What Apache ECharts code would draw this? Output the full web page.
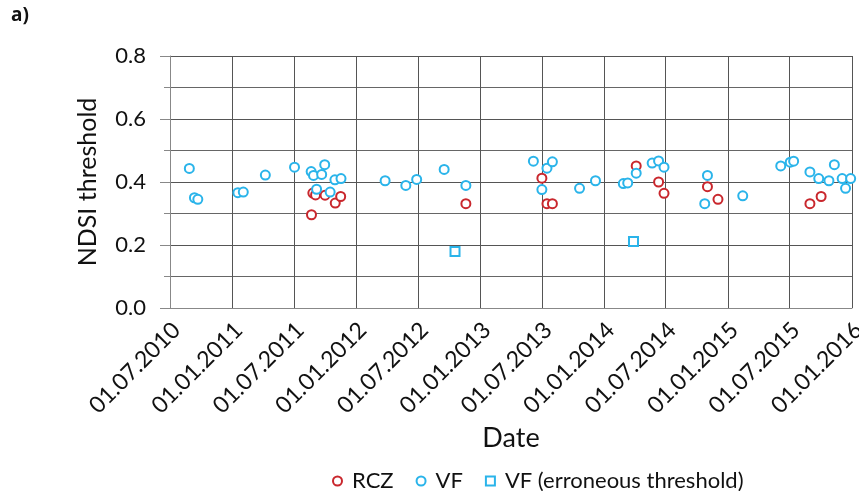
<!DOCTYPE html>
<html>
<head>
<meta charset="utf-8">
<script src="https://cdn.jsdelivr.net/npm/echarts@6/dist/echarts.min.js"></script>
<style>
  html, body { margin: 0; padding: 0; background: #fff; }
  #main { width: 859px; height: 491px; }
</style>
</head>
<body>
<div id="main"></div>
<script>
// tick labels of the date axis (every half year)
var tickLabels = ['01.07.2010', '01.01.2011', '01.07.2011', '01.01.2012', '01.07.2012', '01.01.2013',
    '01.07.2013', '01.01.2014', '01.07.2014', '01.01.2015', '01.07.2015', '01.01.2016'];

// RCZ thresholds
var rczDates = ['2011-08-22', '2011-08-26', '2011-09-03', '2011-10-01', '2011-10-31', '2011-11-16',
    '2012-11-19', '2013-07-01', '2013-07-16', '2013-08-01', '2014-04-05', '2014-06-10', '2014-06-26',
    '2014-11-01', '2014-12-02', '2015-08-30', '2015-10-02'];
var rczValues = [0.296, 0.365, 0.359, 0.358, 0.333, 0.354,
    0.331, 0.412, 0.331, 0.331, 0.451, 0.400, 0.364,
    0.385, 0.345, 0.331, 0.354];

// VF thresholds
var vfDates = ['2010-08-27', '2010-09-11', '2010-09-21', '2011-01-17', '2011-02-02', '2011-04-08',
    '2011-07-03', '2011-08-21', '2011-08-28', '2011-09-06', '2011-09-21', '2011-09-30', '2011-10-16',
    '2011-10-30', '2011-11-17', '2012-03-26', '2012-05-26', '2012-06-27', '2012-09-16', '2012-11-19',
    '2013-06-06', '2013-07-01', '2013-07-16', '2013-08-01', '2013-10-20', '2013-12-06', '2014-02-26',
    '2014-03-11', '2014-04-05', '2014-05-22', '2014-06-10', '2014-06-26', '2014-10-24', '2014-11-01',
    '2015-02-13', '2015-06-05', '2015-07-03', '2015-07-13', '2015-08-30', '2015-09-25', '2015-10-25',
    '2015-11-10', '2015-12-03', '2015-12-13', '2015-12-28'];
var vfValues = [0.443, 0.350, 0.345, 0.366, 0.368, 0.422,
    0.447, 0.433, 0.421, 0.377, 0.424, 0.455, 0.368,
    0.407, 0.411, 0.404, 0.389, 0.408, 0.440, 0.389,
    0.466, 0.376, 0.444, 0.464, 0.380, 0.404, 0.395,
    0.397, 0.428, 0.460, 0.467, 0.447, 0.331, 0.421,
    0.356, 0.451, 0.463, 0.466, 0.432, 0.411, 0.404,
    0.455, 0.411, 0.380, 0.411];

// VF, erroneous threshold
var errDates = ['2012-10-18', '2014-03-28'];
var errValues = [0.179, 0.211];

var red = '#c9272d';
var blue = '#2ab4ea';
var font = 'Lato';

function labelTime(s) {
    var p = s.split('.');
    return new Date(+p[2], +p[1] - 1, +p[0]).getTime();
}
function isoTime(s) {
    var p = s.split('-');
    return new Date(+p[0], +p[1] - 1, +p[2]).getTime();
}
function pairs(dates, values) {
    return dates.map(function (d, i) { return [isoTime(d), values[i]]; });
}
function pad(n) { return (n < 10 ? '0' : '') + n; }

var tickValues = tickLabels.map(labelTime);

var chart = echarts.init(document.getElementById('main'));
var option = {
    animation: false,
    backgroundColor: '#fff',
    title: {
        text: 'a)', left: 6, top: 1,
        textStyle: { fontFamily: 'Noto Sans', fontSize: 19, fontWeight: 'bold', color: '#111' }
    },
    grid: { left: 170, right: 7, top: 56, bottom: 183, outerBoundsMode: 'none' },
    legend: {
        left: 327, top: 465,
        itemWidth: 9, itemHeight: 9, itemGap: 22,
        textStyle: { fontFamily: font, fontSize: 22, color: '#111', padding: [0, 0, 0, 5] },
        data: [
            { name: 'RCZ', icon: 'emptyCircle' },
            { name: 'VF', icon: 'emptyCircle' },
            { name: 'VF (erroneous threshold)', icon: 'emptyRect' }
        ]
    },
    xAxis: {
        type: 'value',
        min: tickValues[0],
        max: tickValues[tickValues.length - 1],
        name: 'Date',
        nameLocation: 'middle',
        nameGap: 116,
        nameTextStyle: { fontFamily: font, fontSize: 27, color: '#111' },
        axisLine: { lineStyle: { color: '#888', width: 1 } },
        axisTick: { show: false, customValues: tickValues },
        axisLabel: {
            customValues: tickValues,
            rotate: 45,
            verticalAlign: 'top',
            lineHeight: 18,
            margin: 12,
            fontFamily: font, fontSize: 23, color: '#111',
            formatter: function (v) {
                var d = new Date(v);
                return pad(d.getDate()) + '.' + pad(d.getMonth() + 1) + '.' + d.getFullYear();
            }
        },
        splitLine: { show: true, lineStyle: { color: '#555', width: 1 } }
    },
    yAxis: {
        type: 'value',
        min: 0, max: 0.8, interval: 0.2,
        name: 'NDSI threshold',
        nameLocation: 'middle',
        nameGap: 70,
        nameTextStyle: { fontFamily: font, fontSize: 25, color: '#111' },
        axisLine: { show: true, lineStyle: { color: '#888', width: 1 } },
        axisTick: { show: true, length: 10, lineStyle: { color: '#888' } },
        minorTick: { show: true, splitNumber: 2, length: 6, lineStyle: { color: '#888' } },
        axisLabel: {
            margin: 24,
            fontFamily: font, fontSize: 22, color: '#111',
            formatter: function (v) { return v.toFixed(1); }
        },
        splitLine: { show: true, lineStyle: { color: '#555', width: 1 } },
        minorSplitLine: { show: true, lineStyle: { color: '#666', width: 1 } }
    },
    series: [
        {
            name: 'RCZ', type: 'scatter', symbol: 'emptyCircle', symbolSize: 9,
            itemStyle: { color: red, borderWidth: 1.5, opacity: 1 },
            data: pairs(rczDates, rczValues)
        },
        {
            name: 'VF', type: 'scatter', symbol: 'emptyCircle', symbolSize: 9,
            itemStyle: { color: blue, borderWidth: 1.5, opacity: 1 },
            data: pairs(vfDates, vfValues)
        },
        {
            name: 'VF (erroneous threshold)', type: 'scatter', symbol: 'emptyRect', symbolSize: 9,
            itemStyle: { color: blue, borderWidth: 1.5, opacity: 1 },
            data: pairs(errDates, errValues)
        }
    ]
};
chart.setOption(option);
</script>
</body>
</html>
